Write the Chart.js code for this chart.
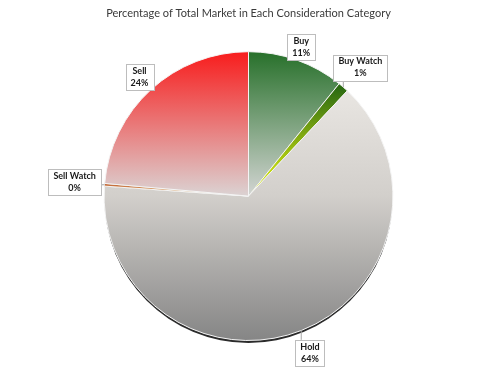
<!DOCTYPE html>
<html><head><meta charset="utf-8">
<script src="https://cdn.jsdelivr.net/npm/chart.js@4"></script>
<style>html,body{margin:0;padding:0;background:#fff}</style>
</head><body>
<canvas id="c" width="497" height="379"></canvas>
<script>
const categories = ['Buy', 'Buy Watch', 'Hold', 'Sell Watch', 'Sell'];
const shares = [10.8, 1.2, 64.1, 0.3, 23.6];

const gradientStops = [
  [[0, '#27702a'], [1, '#d3d5d3']],
  [[0, '#2b6a12'], [1, '#e0f010']],
  [[0, '#f1eeea'], [0.5, '#d2cfcb'], [1, '#858585']],
  [[0, '#b84a1a'], [1, '#f0e0a0']],
  [[0, '#f81c1c'], [1, '#dbd3d3']]
];
// gradient span for each slice: from (top of pie + a*r) to (top + b*r)
const gradientSpan = [[0, 1], [0.25, 0.95], [0, 2], [0.9, 1.0], [0, 1]];
const labelOffsets = [14, 26, 24, 30, 17];

function sliceFill(c) {
  const ch = c.chart, a = ch.chartArea;
  if (!a) return '#cccccc';
  const cy = (a.top + a.bottom) / 2;
  const r = Math.min(a.width, a.height) / 2;
  const top = cy - r;
  const sp = gradientSpan[c.dataIndex];
  const g = ch.ctx.createLinearGradient(0, top + sp[0] * r, 0, top + sp[1] * r);
  gradientStops[c.dataIndex].forEach(s => g.addColorStop(s[0], s[1]));
  return g;
}

const shadowPlugin = {
  id: 'shadow',
  beforeDatasetsDraw(chart) {
    const arc = chart.getDatasetMeta(0).data[0];
    if (!arc) return;
    const ctx = chart.ctx;
    ctx.save();
    ctx.filter = 'blur(0.6px)';
    ctx.beginPath();
    ctx.arc(arc.x, arc.y + 3, arc.outerRadius - 0.5, 0, Math.PI * 2);
    ctx.fillStyle = '#2b2b2b';
    ctx.fill();
    ctx.restore();
  }
};

const calloutPlugin = {
  id: 'callouts',
  afterDatasetsDraw(chart) {
    const ctx = chart.ctx;
    const meta = chart.getDatasetMeta(0);
    ctx.save();
    ctx.font = 'bold 9px Lato, "Open Sans", sans-serif';
    meta.data.forEach((arc, i) => {
      const mid = (arc.startAngle + arc.endAngle) / 2;
      const r = arc.outerRadius;
      const ex = arc.x + Math.cos(mid) * r, ey = arc.y + Math.sin(mid) * r;
      const d = r + labelOffsets[i];
      const bx = arc.x + Math.cos(mid) * d, by = arc.y + Math.sin(mid) * d;
      const l1 = categories[i];
      const l2 = Math.round(shares[i]) + '%';
      const w = Math.max(ctx.measureText(l1).width, ctx.measureText(l2).width) + 10;
      const h = 26;
      const x0 = bx - w / 2, y0 = by - h / 2;
      const px = Math.min(Math.max(ex, x0), x0 + w);
      const py = Math.min(Math.max(ey, y0), y0 + h);
      ctx.strokeStyle = '#a6a6a6';
      ctx.lineWidth = 1;
      ctx.beginPath();
      ctx.moveTo(ex, ey);
      ctx.lineTo(px, py);
      ctx.stroke();
      ctx.fillStyle = '#ffffff';
      ctx.fillRect(Math.round(x0) + 0.5, Math.round(y0) + 0.5, Math.round(w), h);
      ctx.strokeStyle = '#bdbdbd';
      ctx.strokeRect(Math.round(x0) + 0.5, Math.round(y0) + 0.5, Math.round(w), h);
      ctx.fillStyle = '#1a1a1a';
      ctx.textAlign = 'center';
      ctx.textBaseline = 'middle';
      ctx.fillText(l1, bx, by - 6);
      ctx.fillText(l2, bx, by + 6);
    });
    ctx.restore();
  }
};

new Chart(document.getElementById('c'), {
  type: 'pie',
  data: {
    labels: categories,
    datasets: [{
      data: shares,
      backgroundColor: sliceFill,
      borderColor: '#f4f4f4',
      borderWidth: 1
    }]
  },
  options: {
    responsive: false,
    animation: false,
    devicePixelRatio: 1,
    layout: { padding: { top: 0, bottom: 38, left: 0, right: 0 } },
    plugins: {
      legend: { display: false },
      tooltip: { enabled: false },
      title: {
        display: true,
        text: 'Percentage of Total Market in Each Consideration Category',
        color: '#3a3a3a',
        font: { family: 'Lato, "Open Sans", sans-serif', size: 11, weight: 'normal' },
        padding: { top: 7, bottom: 31 }
      }
    }
  },
  plugins: [shadowPlugin, calloutPlugin]
});
</script>
</body></html>
